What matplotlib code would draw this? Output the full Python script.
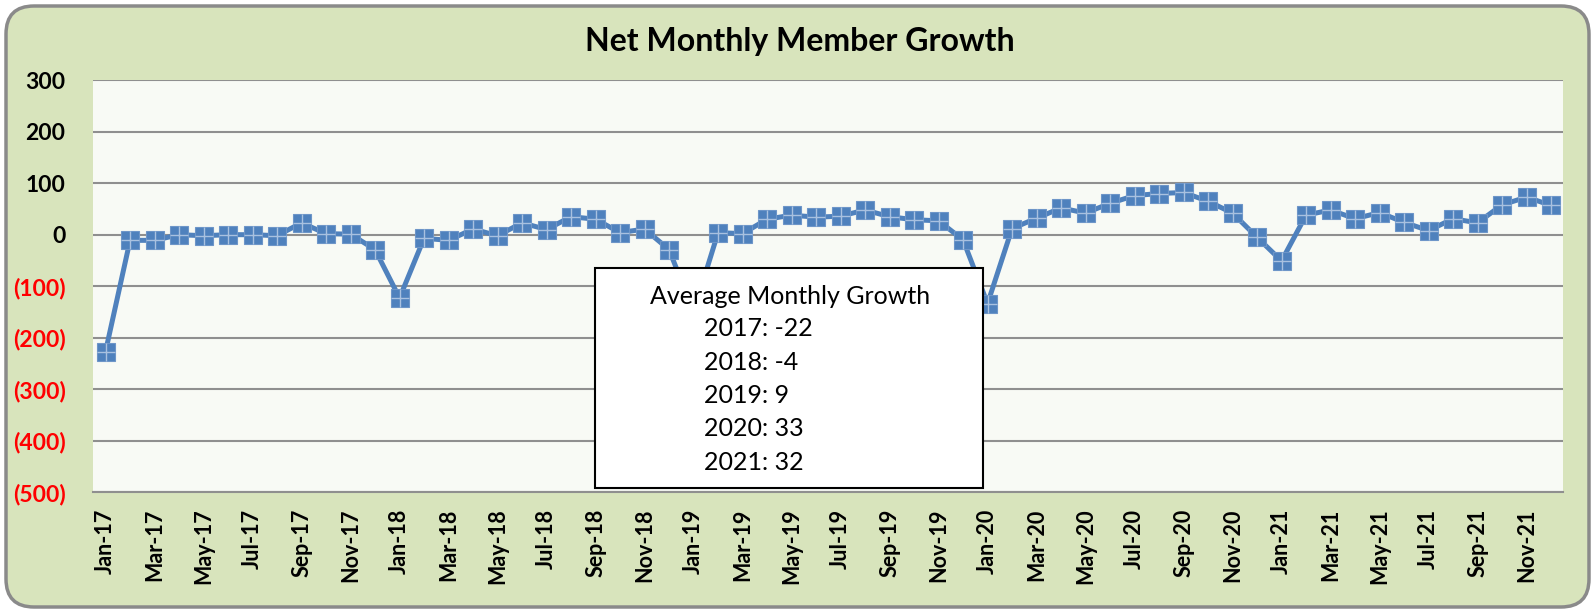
import matplotlib
matplotlib.use("Agg")
import matplotlib.pyplot as plt
from matplotlib.patches import FancyBboxPatch, Rectangle

months = ["Jan", "Feb", "Mar", "Apr", "May", "Jun",
          "Jul", "Aug", "Sep", "Oct", "Nov", "Dec"]
years = ["17", "18", "19", "20", "21"]
categories = [f"{m}-{y}" for y in years for m in months]

values_2017 = [-227, -11, -11, 0, -2, 0, 0, -2, 23, 2, 1, -29]
values_2018 = [-123, -7, -11, 11, -2, 23, 10, 35, 30, 4, 11, -29]
values_2019 = [-150, 4, 2, 30, 38, 34, 36, 48, 35, 29, 27, -10]
values_2020 = [-134, 12, 32, 52, 42, 61, 76, 80, 82, 65, 42, -5]
values_2021 = [-51, 38, 48, 31, 43, 24, 8, 31, 23, 58, 73, 57]
values = values_2017 + values_2018 + values_2019 + values_2020 + values_2021

y_ticks = [300, 200, 100, 0, -100, -200, -300, -400, -500]
title = "Net Monthly Member Growth"
box_title = "Average Monthly Growth"
avg_lines = ["2017: -22", "2018: -4", "2019: 9", "2020: 33", "2021: 32"]

FONT = ["Lato", "DejaVu Sans"]
plt.rcParams["font.family"] = FONT

W, H, DPI = 1595, 611, 100
fig = plt.figure(figsize=(W / DPI, H / DPI), dpi=DPI, facecolor="white")

# rounded outer frame
frame = FancyBboxPatch((6 / DPI, 4 / DPI), (W - 12) / DPI, (H - 10) / DPI,
                       boxstyle="round,pad=0,rounding_size=0.28",
                       transform=fig.dpi_scale_trans,
                       facecolor="#D8E4BC", edgecolor="#8A8A8A", linewidth=2.5,
                       zorder=-5)
fig.patches.append(frame)

left, right, top, bottom = 93.3, 1563.3, 80.3, 492.0
ax = fig.add_axes([left / W, 1 - bottom / H, (right - left) / W, (bottom - top) / H])
ax.set_zorder(1)
ax.set_facecolor("#F8FAF5")

x = list(range(len(values)))
ax.plot(x, values, color="#4F81BD", linewidth=3.6, zorder=3, solid_joinstyle="round")
ax.plot(x, values, linestyle="none", marker="s", markersize=13.5,
        markerfacecolor="#4F81BD", markeredgecolor="#6D95C8", markeredgewidth=0.8, zorder=4)
ax.plot(x, values, linestyle="none", marker="+", markersize=12.5,
        markeredgecolor="#A9C1E0", markeredgewidth=1.0, zorder=5)

ax.set_xlim(-0.5, len(values) - 0.5)
ax.set_ylim(-500, 300)
ax.set_yticks(y_ticks)
ax.yaxis.grid(True, color="#8F8F8F", linewidth=1.5)
ax.set_axisbelow(True)
for s in ["left", "right", "top"]:
    ax.spines[s].set_visible(False)
ax.spines["bottom"].set_color("#8F8F8F")
ax.spines["bottom"].set_linewidth(1.5)


def fmt(v):
    return f"({abs(v)})" if v < 0 else f"{v}"


ax.set_yticklabels([fmt(v) for v in y_ticks])
for lbl, v in zip(ax.get_yticklabels(), y_ticks):
    lbl.set_color("red" if v < 0 else "black")
    lbl.set_fontweight("bold")
    lbl.set_fontsize(16.5)
ax.tick_params(axis="y", length=0, pad=20)

ax.set_xticks(x[::2])
ax.set_xticklabels(categories[::2], rotation=90, fontsize=15.5, fontweight="bold")
ax.tick_params(axis="x", length=0, pad=12)

fig.text(800 / W, 1 - 42 / H, title, ha="center", va="center",
         fontsize=23, fontweight="bold")

# annotation box
bx0, bx1, by0, by1 = 595, 983, 268, 488
fig.patches.append(Rectangle((bx0 / W, 1 - by1 / H), (bx1 - bx0) / W, (by1 - by0) / H,
                             transform=fig.transFigure, facecolor="white",
                             edgecolor="black", linewidth=1.5, zorder=10))
fig.text(790 / W, 1 - 296 / H, box_title, ha="center", va="center", fontsize=18, zorder=11)
for i, line in enumerate(avg_lines):
    fig.text(704 / W, 1 - (329 + 33.3 * i) / H, line, ha="left", va="center",
             fontsize=18, zorder=11)

fig.savefig("out.png", dpi=DPI, facecolor="white")
